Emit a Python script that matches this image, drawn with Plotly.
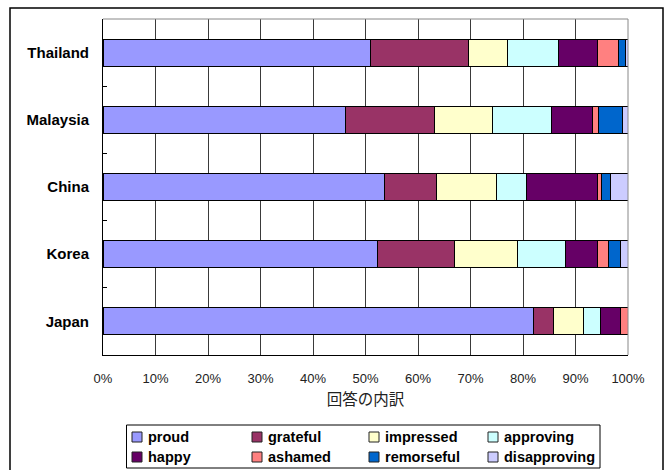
import plotly.graph_objects as go

# Countries, listed top to bottom
countries = ["Thailand", "Malaysia", "China", "Korea", "Japan"]

# Response categories and their share (%) for each country (same order as countries)
emotions = ["proud", "grateful", "impressed", "approving",
            "happy", "ashamed", "remorseful", "disapproving"]
proud = [51.0, 46.1, 53.7, 52.2, 82.0]
grateful = [18.6, 17.1, 9.9, 14.7, 3.8]
impressed = [7.4, 11.0, 11.4, 12.0, 5.7]
approving = [9.7, 11.2, 5.6, 9.1, 3.3]
happy = [7.4, 7.8, 13.5, 6.1, 3.8]
ashamed = [4.0, 1.2, 0.9, 2.1, 1.4]
remorseful = [1.4, 4.5, 1.6, 2.3, 0.0]
disapproving = [0.5, 1.1, 3.4, 1.5, 0.0]

series = [proud, grateful, impressed, approving,
          happy, ashamed, remorseful, disapproving]
colors = ["#9999FF", "#993366", "#FFFFCC", "#CCFFFF",
          "#660066", "#FF8080", "#0066CC", "#CCCCFF"]

x_ticks = list(range(0, 101, 10))
x_title = "回答の内訳"

fig = go.Figure()
for name, vals, col in zip(emotions, series, colors):
    fig.add_trace(go.Bar(
        y=countries, x=vals, name=name, orientation="h",
        marker=dict(color=col, line=dict(color="#000000", width=1)),
        hoverinfo="x+y+name", showlegend=False,
    ))

W, H = 670, 470
L, R, T, B = 103, 42, 19, 115
pw, ph = W - L - R, H - T - B


def px_x(p):
    return (p - L) / pw


def px_y(p):
    return (H - B - p) / ph


shapes = [
    # gray top and right edges of the plotting area
    dict(type="line", xref="paper", yref="paper", x0=0, x1=1, y0=1, y1=1,
         line=dict(color="#888888", width=1)),
    dict(type="line", xref="paper", yref="paper", x0=1, x1=1, y0=0, y1=1,
         line=dict(color="#888888", width=1)),
    # outer chart frame
    dict(type="rect", xref="paper", yref="paper",
         x0=px_x(10), x1=px_x(663), y0=px_y(490), y1=px_y(8),
         line=dict(color="#000000", width=1.5), layer="below"),
    # legend box
    dict(type="rect", xref="paper", yref="paper",
         x0=px_x(126.5), x1=px_x(600), y0=px_y(468), y1=px_y(425),
         line=dict(color="#000000", width=1), fillcolor="white", layer="below"),
]
annotations = []

# legend: 4 columns x 2 rows, swatch followed by bold label
col_x = [132, 252, 369, 488]
row_y = [437, 457]
for i, (name, col) in enumerate(zip(emotions, colors)):
    cx = col_x[i % 4]
    cy = row_y[i // 4]
    shapes.append(dict(type="rect", xref="paper", yref="paper",
                       x0=px_x(cx), x1=px_x(cx + 10),
                       y0=px_y(cy + 5), y1=px_y(cy - 5),
                       fillcolor=col, line=dict(color="#222222", width=1)))
    annotations.append(dict(xref="paper", yref="paper",
                            x=px_x(cx + 14), y=px_y(cy),
                            xanchor="left", yanchor="middle", showarrow=False,
                            text=name,
                            font=dict(size=14.5, weight="bold", color="#000000")))

fig.update_layout(
    width=W, height=H,
    margin=dict(l=L, r=R, t=T, b=B, pad=0, autoexpand=False),
    barmode="stack", bargap=0.6,
    paper_bgcolor="white", plot_bgcolor="white",
    font=dict(family="Liberation Sans, Arial, sans-serif", color="#000000"),
    showlegend=False,
    xaxis=dict(
        range=[0, 100], tickvals=x_ticks, ticktext=[f"{v}%" for v in x_ticks],
        showgrid=True, gridcolor="#3a3a3a", gridwidth=1,
        zeroline=False, showline=True, linecolor="#000000", linewidth=1,
        ticks="", ticklabelstandoff=11,
        tickfont=dict(size=13, color="#222222"),
        title=dict(text=x_title, standoff=9,
                   font=dict(family="Noto Sans CJK JP", size=15.5, color="#222222")),
        fixedrange=True,
    ),
    yaxis=dict(
        autorange="reversed", type="category",
        showgrid=False, zeroline=False,
        showline=True, linecolor="#000000", linewidth=1,
        ticks="inside", ticklen=4, tickcolor="#000000", tickson="boundaries",
        ticklabelstandoff=10,
        tickfont=dict(size=15, weight="bold", color="#000000"),
        fixedrange=True,
    ),
    shapes=shapes,
    annotations=annotations,
)

fig.write_html("out.html")
